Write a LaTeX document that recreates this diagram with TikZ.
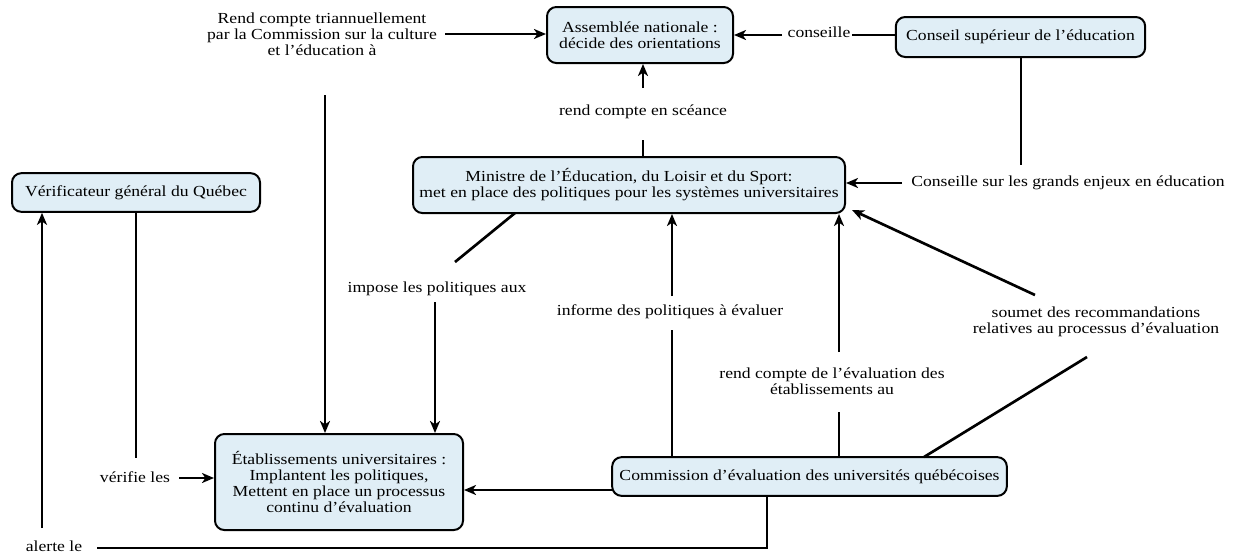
\documentclass[tikz,border=0pt]{standalone}
\usepackage{fontspec}
\setmainfont{Liberation Serif}[FakeStretch=1.15]
\usetikzlibrary{arrows.meta}
\definecolor{boxfill}{RGB}{224,238,246}
\tikzset{
  box/.style={draw=black, line width=1.5pt, fill=boxfill, rounded corners=7pt, align=center, inner sep=2pt, font=\fontsize{11.5}{12}\selectfont},
  lbl/.style={align=center, inner sep=0pt, font=\fontsize{11.5}{12}\selectfont},
  conn/.style={line width=2pt},
  arr/.style={line width=2pt, -{Stealth[length=9pt,width=7.5pt,inset=2.5pt]}}
}
\begin{document}
\begin{tikzpicture}[x=0.75pt,y=-0.75pt]
\useasboundingbox (0,0) rectangle (1235,554);
% boxes
\node[box, minimum width=139.5pt, minimum height=42pt] (an) at (640,35) {Assemblée nationale :\\décide des orientations};
\node[box, minimum width=187pt, minimum height=30pt] (cse) at (1020.5,37) {Conseil supérieur de l’éducation};
\node[box, minimum width=324pt, minimum height=42pt] (min) at (629,185) {Ministre de l’Éducation, du Loisir et du Sport:\\met en place des politiques pour les systèmes universitaires};
\node[box, minimum width=186pt, minimum height=29pt] (vg) at (136,192.5) {Vérificateur général du Québec};
\node[box, minimum width=186pt, minimum height=72pt] (eu) at (339,482) {Établissements universitaires :\\Implantent les politiques,\\Mettent en place un processus\\continu d’évaluation};
\node[box, minimum width=296pt, minimum height=29pt] (ceuq) at (809.5,476.5) {Commission d’évaluation des universités québécoises};
% labels
\node[lbl] (l1) at (322,34) {Rend compte triannuellement\\par la Commission sur la culture\\et l’éducation à};
\node[lbl] (l2) at (819,32) {conseille};
\node[lbl] (l3) at (643,112) {rend compte en scéance};
\node[lbl] (l4) at (1068,183) {Conseille sur les grands enjeux en éducation};
\node[lbl] (l5) at (437,289) {impose les politiques aux};
\node[lbl] (l6) at (670,312) {informe des politiques à évaluer};
\node[lbl] (l7) at (832,381) {rend compte de l’évaluation des\\établissements au};
\node[lbl] (l8) at (1096,322) {soumet des recommandations\\relatives au processus d’évaluation};
\node[lbl] (l9) at (135,477) {vérifie les};
\node[lbl] (l10) at (54,546) {alerte le};
% helper coordinates
\coordinate (c1a) at (325,95);
\coordinate (c1b) at (445,34);
\coordinate (c2a) at (852,35);
\coordinate (c2b) at (782,35);
\coordinate (c3a) at (643,140);
\coordinate (c3b) at (643,88);
\coordinate (c4a) at (1021,165);
\coordinate (c4b) at (902,183);
\coordinate (c5s) at (515,213);
\coordinate (c5a) at (455,262);
\coordinate (c5b) at (435,302);
\coordinate (c6a) at (672,330);
\coordinate (c6b) at (672,296);
\coordinate (c7a) at (839,412);
\coordinate (c7b) at (839,352);
\coordinate (c8s) at (924,457);
\coordinate (c8a) at (1087,357);
\coordinate (c8b) at (1035,295);
\coordinate (c8e) at (852,210);
\coordinate (c9a) at (136,458);
\coordinate (c9b) at (179,478);
\coordinate (c10a) at (767,548);
\coordinate (c10b) at (97,548);
\coordinate (c10c) at (42,528);
\coordinate (c11) at (612,490);
% connectors
\draw[arr] (c1b) -- (c1b -| an.west);
\draw[arr] (c1a) -- (c1a |- eu.north);
\draw[conn] (c2a -| cse.west) -- (c2a);
\draw[arr] (c2b) -- (c2b -| an.east);
\draw[conn] (c3a |- min.north) -- (c3a);
\draw[arr] (c3b) -- (c3b |- an.south);
\draw[conn] (c4a |- cse.south) -- (c4a);
\draw[arr] (c4b) -- (c4b -| min.east);
\draw[conn] (c5s) -- (c5a);
\draw[arr] (c5b) -- (c5b |- eu.north);
\draw[conn] (c6a |- ceuq.north) -- (c6a);
\draw[arr] (c6b) -- (c6b |- min.south);
\draw[conn] (c7a |- ceuq.north) -- (c7a);
\draw[arr] (c7b) -- (c7b |- min.south);
\draw[conn] (c8s) -- (c8a);
\draw[arr] (c8b) -- (c8e);
\draw[conn] (c9a |- vg.south) -- (c9a);
\draw[arr] (c9b) -- (c9b -| eu.west);
\draw[conn] (c10a |- ceuq.south) -- (c10a) -- (c10b);
\draw[arr] (c10c) -- (c10c |- vg.south);
\draw[arr] (c11) -- (c11 -| eu.east);
\end{tikzpicture}
\end{document}
